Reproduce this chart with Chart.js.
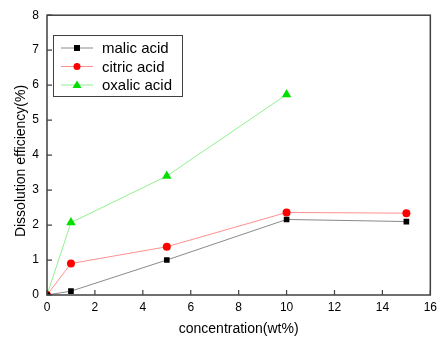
<!DOCTYPE html>
<html>
<head>
<meta charset="utf-8">
<script src="https://cdn.jsdelivr.net/npm/chart.js@4/dist/chart.umd.min.js"></script>
<style>
  html, body { margin: 0; padding: 0; background: #fff; }
  #wrap { width: 442px; height: 338px; }
</style>
</head>
<body>
<div id="wrap"><canvas id="chart" width="442" height="338"></canvas></div>
<script>
// concentration (wt%) on x, dissolution efficiency (%) on y
const concentration = [0, 1, 5, 10, 15];
const concentrationOxalic = [0, 1, 5, 10];
const malicAcid = [0, 0.11, 1.0, 2.16, 2.10];
const citricAcid = [0, 0.90, 1.38, 2.36, 2.34];
const oxalicAcid = [0, 2.07, 3.40, 5.73];
const xTicks = [0, 2, 4, 6, 8, 10, 12, 14, 16];
const yTicks = [0, 1, 2, 3, 4, 5, 6, 7, 8];
const yTitle = 'Dissolution efficiency(%)';

function toPoints(xs, ys) {
    return xs.map((x, i) => ({ x: x, y: ys[i] }));
}

const series = [
    { label: 'malic acid', data: toPoints(concentration, malicAcid), line: '#8a8a8a', mark: '#000000', style: 'rect', r: 4 },
    { label: 'citric acid', data: toPoints(concentration, citricAcid), line: '#ff9090', mark: '#ff0000', style: 'circle', r: 4 },
    { label: 'oxalic acid', data: toPoints(concentrationOxalic, oxalicAcid), line: '#90f090', mark: '#00e000', style: 'triangle', r: 5.5 }
];

const font = '"Liberation Sans", Arial, sans-serif';

// box around the plot, inward ticks, y title and the line+marker legend
const framePlugin = {
    id: 'frame',
    afterDraw(chart) {
        const ctx = chart.ctx;
        const a = chart.chartArea;
        const xs = chart.scales.x, ys = chart.scales.y;
        ctx.save();
        ctx.strokeStyle = '#404040';
        ctx.lineWidth = 1.5;
        ctx.strokeRect(a.left, a.top, a.right - a.left, a.bottom - a.top);
        ctx.lineWidth = 1.2;
        ctx.beginPath();
        xTicks.forEach(v => {
            const px = xs.getPixelForValue(v);
            ctx.moveTo(px, a.bottom);
            ctx.lineTo(px, a.bottom - 5);
        });
        yTicks.forEach(v => {
            const py = ys.getPixelForValue(v);
            ctx.moveTo(a.left, py);
            ctx.lineTo(a.left + 5, py);
        });
        ctx.stroke();

        // y axis title, sits a little below the middle
        ctx.save();
        ctx.translate(21, 161);
        ctx.rotate(-Math.PI / 2);
        ctx.font = '14px ' + font;
        ctx.fillStyle = '#000';
        ctx.textAlign = 'center';
        ctx.textBaseline = 'middle';
        ctx.fillText(yTitle, 0, 0);
        ctx.restore();

        // legend
        const lx = 53, ly = 35, lw = 129, lh = 61;
        ctx.fillStyle = '#fff';
        ctx.fillRect(lx, ly, lw, lh);
        ctx.strokeStyle = '#404040';
        ctx.lineWidth = 1;
        ctx.strokeRect(lx + 0.5, ly + 0.5, lw, lh);
        ctx.font = '15px ' + font;
        ctx.textBaseline = 'middle';
        series.forEach((s, i) => {
            const cy = ly + 13 + i * 18.5;
            ctx.strokeStyle = s.line;
            ctx.lineWidth = 1;
            ctx.beginPath();
            ctx.moveTo(lx + 8, cy);
            ctx.lineTo(lx + 40, cy);
            ctx.stroke();
            ctx.fillStyle = s.mark;
            ctx.beginPath();
            if (s.style === 'rect') {
                ctx.rect(lx + 24 - 3, cy - 3, 6, 6);
            } else if (s.style === 'circle') {
                ctx.arc(lx + 24, cy, 3.5, 0, Math.PI * 2);
            } else {
                ctx.moveTo(lx + 24, cy - 4.5);
                ctx.lineTo(lx + 28.5, cy + 3);
                ctx.lineTo(lx + 19.5, cy + 3);
                ctx.closePath();
            }
            ctx.fill();
            ctx.fillStyle = '#000';
            ctx.fillText(s.label, lx + 49, cy + 1);
        });
        ctx.restore();
    }
};

new Chart(document.getElementById('chart').getContext('2d'), {
    type: 'scatter',
    data: {
        datasets: series.map(s => ({
            label: s.label,
            data: s.data,
            showLine: true,
            borderColor: s.line,
            borderWidth: 1,
            backgroundColor: s.mark,
            pointStyle: s.style,
            pointRadius: s.r,
            pointBorderWidth: 0,
            pointBorderColor: s.mark,
            tension: 0
        }))
    },
    options: {
        responsive: false,
        animation: false,
        layout: { padding: { top: 14, right: 7, left: 0, bottom: 0 } },
        plugins: { legend: { display: false }, tooltip: { enabled: false } },
        scales: {
            x: {
                type: 'linear',
                min: 0, max: 16,
                afterBuildTicks: s => { s.ticks = xTicks.map(v => ({ value: v })); },
                afterFit: s => { s.height = 43; },
                grid: { display: false, drawTicks: false, tickLength: 0 },
                border: { display: false },
                ticks: { color: '#000', font: { family: font, size: 12 }, padding: 5, maxRotation: 0 },
                title: { display: true, text: 'concentration(wt%)', color: '#000', font: { family: font, size: 14 }, padding: { top: 8, bottom: 0 } }
            },
            y: {
                type: 'linear',
                min: 0, max: 8,
                afterBuildTicks: s => { s.ticks = yTicks.map(v => ({ value: v })); },
                afterFit: s => { s.width = 47; },
                grid: { display: false, drawTicks: false, tickLength: 0 },
                border: { display: false },
                ticks: { color: '#000', font: { family: font, size: 12 }, padding: 8 }
            }
        }
    },
    plugins: [framePlugin]
});
</script>
</body>
</html>
